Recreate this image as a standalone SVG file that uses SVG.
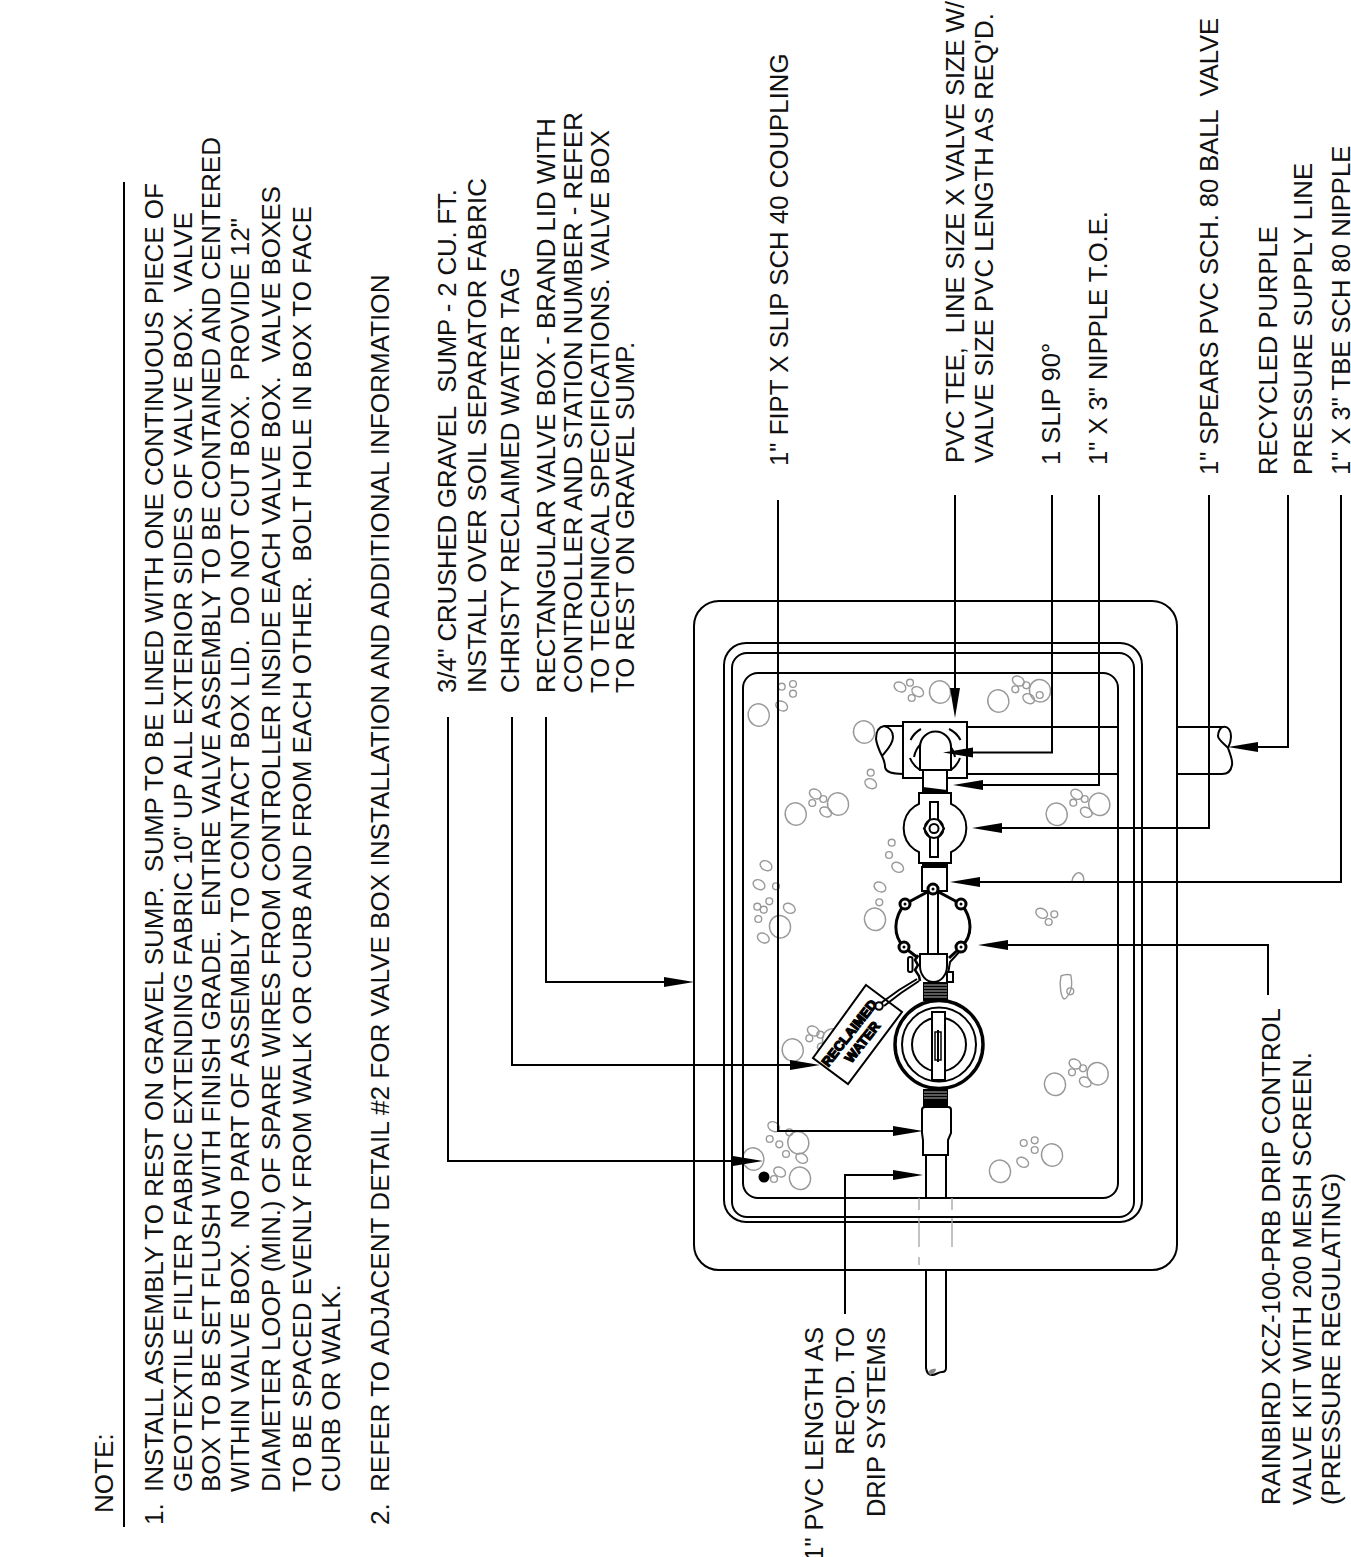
<svg xmlns="http://www.w3.org/2000/svg" width="1351" height="1557" viewBox="0 0 1351 1557">
<style>
text{font-family:"Liberation Sans",Arial,sans-serif;font-size:26.1px;fill:#111;white-space:pre}
.lb text{font-size:25.8px}
.lb .r text{font-size:25.6px}
.l{fill:none;stroke:#000;stroke-width:2}
.w{fill:#fff;stroke:#000;stroke-width:2}
.c{fill:none;stroke:#000;stroke-width:2;marker-end:url(#a)}
.g{fill:none;stroke:#999;stroke-width:1.4}
.d{fill:none;stroke:#aaa;stroke-width:1.4}
.t{fill:#000}
.th{stroke:#fff;stroke-width:.7}
text.tag{font-size:13.5px;font-weight:bold;stroke:#000;stroke-width:1.3;text-anchor:middle;fill:#000}
</style>
<defs>
<marker id="a" markerUnits="userSpaceOnUse" markerWidth="30" markerHeight="12" refX="20" refY="6" orient="auto"><path d="M0,1L30,6L0,11Z" fill="#000"/></marker>
<ellipse id="L" class="g" rx="10.500" ry="11.300" transform="rotate(-15)"/>
<ellipse id="M" class="g" rx="6.200" ry="4.600" transform="rotate(30)"/>
<circle id="S" class="g" r="3.400"/>
</defs>
<g id="note">
<path class="l" d="M124,1527V182"/>
<text transform="translate(113,1513) rotate(-90)">NOTE:</text>
<text transform="translate(163,1525) rotate(-90)">1.</text>
<text transform="translate(163,1492) rotate(-90)" textLength="1309">INSTALL ASSEMBLY TO REST ON GRAVEL SUMP.  SUMP TO BE LINED WITH ONE CONTINUOUS PIECE OF</text>
<text transform="translate(192,1492) rotate(-90)" textLength="1280">GEOTEXTILE FILTER FABRIC EXTENDING FABRIC 10" UP ALL EXTERIOR SIDES OF VALVE BOX.  VALVE</text>
<text transform="translate(220,1492) rotate(-90)" textLength="1355">BOX TO BE SET FLUSH WITH FINISH GRADE.  ENTIRE VALVE ASSEMBLY TO BE CONTAINED AND CENTERED</text>
<text transform="translate(249,1492) rotate(-90)" textLength="1274">WITHIN VALVE BOX.  NO PART OF ASSEMBLY TO CONTACT BOX LID.  DO NOT CUT BOX.  PROVIDE 12"</text>
<text transform="translate(280,1492) rotate(-90)" textLength="1306">DIAMETER LOOP (MIN.) OF SPARE WIRES FROM CONTROLLER INSIDE EACH VALVE BOX.  VALVE BOXES</text>
<text transform="translate(311,1492) rotate(-90)" textLength="1286">TO BE SPACED EVENLY FROM WALK OR CURB AND FROM EACH OTHER.  BOLT HOLE IN BOX TO FACE</text>
<text transform="translate(340,1492) rotate(-90)">CURB OR WALK.</text>
<text transform="translate(389,1525) rotate(-90)">2.</text>
<text transform="translate(389,1492) rotate(-90)">REFER TO ADJACENT DETAIL #2 FOR VALVE BOX INSTALLATION AND ADDITIONAL INFORMATION</text>
</g>
<g id="gravel">
<use href="#L" x="758.700" y="715"/><use href="#S" x="781.700" y="686.700"/><use href="#S" x="793" y="684"/><use href="#S" x="793" y="693.700"/><use href="#M" x="781.700" y="706"/>
<use href="#M" x="900" y="687"/><use href="#S" x="910" y="682.700"/><use href="#M" x="917.700" y="691.700"/><use href="#S" x="911.700" y="698"/><use href="#L" x="940" y="692"/><use href="#L" x="864" y="732"/>
<use href="#S" x="870.700" y="772.700"/><use href="#M" x="870.700" y="783.700"/><use href="#L" x="795.700" y="814"/><use href="#L" x="838" y="804"/><use href="#M" x="815.300" y="794"/><use href="#S" x="823.300" y="799"/><use href="#S" x="812.300" y="803"/><use href="#M" x="825.700" y="812"/>
<use href="#S" x="891.700" y="842.700"/><use href="#S" x="889" y="855"/><use href="#M" x="897.700" y="867.300"/><use href="#M" x="880" y="887"/><use href="#S" x="879.300" y="902.300"/><use href="#L" x="875" y="919.300"/>
<use href="#M" x="766" y="865.700"/><use href="#M" x="759" y="884.700"/><use href="#S" x="776" y="886.300"/><use href="#S" x="769.300" y="901.300"/><use href="#S" x="757.300" y="906.700"/><use href="#S" x="763.700" y="909.700"/><use href="#M" x="789.300" y="908.300"/><use href="#S" x="758.300" y="919"/><use href="#L" x="780" y="926.700"/><use href="#M" x="763.300" y="938"/>
<use href="#M" x="1018.300" y="681"/><use href="#S" x="1026.300" y="685.300"/><use href="#S" x="1015.300" y="689.300"/><use href="#M" x="1028.700" y="698.700"/><use href="#L" x="1040" y="690.700"/><use href="#S" x="1039.700" y="695"/><use href="#L" x="998.300" y="701"/>
<use href="#M" x="1076.700" y="794.300"/><use href="#S" x="1084.700" y="799"/><use href="#S" x="1073.300" y="802.700"/><use href="#M" x="1086.300" y="812.300"/><use href="#L" x="1099.300" y="804.300"/><use href="#L" x="1056.700" y="814.300"/>
<path class="g" d="M1072,881C1073,875 1077,872 1080,873C1084,875 1084,879 1083.500,882"/>
<use href="#M" x="1041.700" y="913.300"/><use href="#S" x="1054.300" y="914.300"/><use href="#S" x="1048.700" y="922"/>
<path class="g" d="M1061,976C1065,974 1071,974 1071,976C1072,982 1072,988 1070,992C1068,996 1066,999 1064,999C1061,997 1059,985 1061,976Z"/><use href="#S" x="1070.300" y="991.300"/>
<use href="#L" x="792.700" y="1050"/><use href="#M" x="813.300" y="1031"/><use href="#S" x="820.300" y="1034.700"/><use href="#S" x="809.300" y="1038.300"/><use href="#M" x="823.300" y="1048"/><use href="#L" x="833" y="1040"/>
<use href="#M" x="773.700" y="1126.700"/><use href="#S" x="789.300" y="1132.300"/><use href="#S" x="769.700" y="1139"/><use href="#S" x="779.300" y="1144.300"/><use href="#S" x="786" y="1154"/><use href="#L" x="798.300" y="1142.700"/><use href="#M" x="801.700" y="1158.300"/><use href="#L" x="753.300" y="1159"/><use href="#M" x="779.700" y="1172"/><use href="#S" x="774" y="1179"/><use href="#L" x="800" y="1178.300"/>
<use href="#M" x="1075" y="1064"/><use href="#S" x="1083" y="1068.300"/><use href="#S" x="1072" y="1072.300"/><use href="#M" x="1085.300" y="1082"/><use href="#L" x="1097.700" y="1073.700"/><use href="#L" x="1055" y="1084.300"/>
<use href="#S" x="1023.700" y="1143"/><use href="#S" x="1034.700" y="1140.300"/><use href="#S" x="1034.700" y="1150"/><use href="#M" x="1022.700" y="1162.300"/><use href="#L" x="1052" y="1155"/><use href="#L" x="1000" y="1171.300"/>
<circle class="t" cx="764" cy="1177" r="5.500"/>
</g>
<g id="valve-box">
<rect class="l" x="694" y="601" width="483" height="669" rx="25"/>
<rect class="l" x="724" y="643" width="418" height="579" rx="22"/>
<rect class="l" x="732" y="653" width="402" height="564" rx="15"/>
<rect class="l" x="743" y="673" width="375" height="525" rx="15"/>
</g>
<g id="supply-line">
<path class="l" d="M967,727H1118M1177,727H1223M967,774H1118M1177,774H1222"/>
<path class="l" d="M1223,727C1228,726 1231,730 1231,737C1231,742 1229,746 1228,748C1225,744 1218,740 1218,736C1218,731 1221,727 1223,727ZM1228,748C1230,754 1233,760 1232,765C1231,771 1227,774 1222,774"/>
<path class="l" d="M903,726H884C878,727 876,733 876,739C877,746 880,752 882,756C885,752 893,745 893,737C893,731 889,727 884,726M882,756C884,760 885,763 885,767C886,772 891,774 903,774"/>
</g>
<g id="pvc-tee">
<rect class="w" x="903" y="722" width="64" height="56"/>
<path class="l" d="M914,757A21,24 0 0 1 955,757"/>
<path class="w" d="M920,770V747A15.500,15.500 0 0 1 951,747V770Z"/>
<path class="l" d="M910.500,740A25,25 0 0 1 921,729M949,729A25,25 0 0 1 960.500,740M910,758A25,25 0 0 0 920,770M951,770A25,25 0 0 0 960,758"/>
</g>
<g id="nipple-toe">
<rect class="w" x="923" y="770" width="24" height="23"/>
<path class="t" d="M923,787L947,790V793H923Z"/>
</g>
<g id="ball-valve">
<path class="w" d="M919,793H951V804L955,806A27,27 0 0 1 955,850L951,852V863H919V852L915,850A27,27 0 0 1 915,806L919,804Z"/>
<path class="l" d="M930,802H938V819L944,828.500L938,838V857H930V838L924,828.500L930,819Z"/>
<circle class="w" cx="934" cy="828.500" r="4.500"/>
<circle class="l" cx="934" cy="828.500" r="9.500"/>
</g>
<g id="tbe-nipple">
<rect class="t" x="922" y="863" width="26" height="5"/>
<rect class="w" x="922" y="867" width="25" height="24"/>
</g>
<g id="drip-valve">
<path class="l" style="stroke-width:3" d="M905,904C893,918 893,936 904,947M961,904C973,918 973,936 961,947M905,904L933,889L961,904M904,947L918,958M961,947L949,958"/>
<path class="l" d="M961,950L950,962L948,974"/>
<rect class="w" x="928" y="890" width="10" height="66"/>
<rect class="w" x="908" y="957" width="4.500" height="15" rx="2"/>
<path class="w" d="M947,972H953V982H947Z"/>
<path class="w" d="M920,954H947V966A13.500,16 0 0 1 920,966Z"/>
<path class="l" style="stroke-width:2.500" d="M918,955L915,960L918,965L915,970L919,976L920,981"/>
<g class="w" style="stroke-width:3"><circle cx="933" cy="889" r="5"/><circle cx="905" cy="904" r="5"/><circle cx="961" cy="904" r="5"/><circle cx="904" cy="947" r="5"/><circle cx="961" cy="947" r="5"/></g>
<g class="t"><circle cx="933" cy="889" r="1.500"/><circle cx="905" cy="904" r="1.500"/><circle cx="961" cy="904" r="1.500"/><circle cx="904" cy="947" r="1.500"/><circle cx="961" cy="947" r="1.500"/></g>
</g>
<g id="threads">
<rect class="t" x="923" y="982" width="25" height="19"/>
<path class="th" d="M924,985H947M924,988H947M924,991H947M924,994H947M924,997H947"/>
<rect class="t" x="923" y="1089" width="25" height="18"/>
<path class="th" d="M924,1092H947M924,1095H947M924,1098H947"/>
</g>
<g id="meter">
<circle class="w" style="stroke-width:3.500" cx="939" cy="1044.500" r="44"/>
<circle class="l" cx="939" cy="1044.500" r="37"/>
<circle class="l" cx="939" cy="1044.500" r="27"/>
<rect class="w" x="932" y="1012" width="13" height="68"/>
<rect class="l" style="stroke-width:1.500" x="935" y="1032" width="6" height="28"/>
<path class="l" d="M938,1030V1062"/>
</g>
<g id="tag">
<path class="w" d="M866,985L902,1012L848,1084L813,1058Z"/>
<circle class="w" cx="879" cy="1006" r="3.800"/>
<path class="l" d="M881,1003L899,990L917,979M884,1006L901,993L919,981"/>
<text class="tag" transform="translate(853,1036) rotate(-52)">RECLAIMED</text>
<text class="tag" transform="translate(866,1045) rotate(-52)">WATER</text>
</g>
<g id="coupling">
<path class="w" d="M922,1110Q922,1107 925,1107H948Q951,1107 951,1110V1133L948,1140V1155H923V1140L922,1133Z"/>
</g>
<g id="pvc-line">
<path class="l" d="M926,1155V1198M946,1155V1198M926,1270V1368Q927,1375 932,1375M946,1270V1368Q946,1372 942,1372C938,1372 936,1375 932,1375"/>
<path fill="#888" stroke="none" d="M928,1372C930,1369 934,1368 936,1369C936,1372 933,1374 930,1375Z"/>
<path class="d" d="M919,1198V1210M919,1218V1247M919,1257V1265M952,1198V1210M952,1218V1247"/>
</g>
<g id="connectors">
<path class="c" d="M448,717V1161H753"/>
<path class="c" d="M512,717V1065H810"/>
<path class="c" d="M546,717V982H684"/>
<path class="c" d="M778,500V1131H913"/>
<path class="c" d="M845,1314V1175H913"/>
<path class="c" d="M955,495V708"/>
<path class="c" d="M1052,495V752.500H953"/>
<path class="c" d="M1099,495V785H963"/>
<path class="c" d="M1209,495V828H982"/>
<path class="c" d="M1288,495V747H1238"/>
<path class="c" d="M1341,495V882H960"/>
<path class="c" d="M1268,995V945H988"/>
</g>
<g class="lb">
<g id="label-sump"><text transform="translate(456,693) rotate(-90)" textLength="504">3/4" CRUSHED GRAVEL  SUMP - 2 CU. FT.</text><text transform="translate(486,693) rotate(-90)" textLength="515">INSTALL OVER SOIL SEPARATOR FABRIC</text></g>
<g id="label-tag"><text transform="translate(519,693) rotate(-90)">CHRISTY RECLAIMED WATER TAG</text></g>
<g id="label-box"><text transform="translate(555,693) rotate(-90)">RECTANGULAR VALVE BOX - BRAND LID WITH</text><text transform="translate(582,693) rotate(-90)">CONTROLLER AND STATION NUMBER - REFER</text><text transform="translate(609,693) rotate(-90)">TO TECHNICAL SPECIFICATIONS. VALVE BOX</text><text transform="translate(634,693) rotate(-90)">TO REST ON GRAVEL SUMP.</text></g>
<g id="label-coupling"><text transform="translate(788,466) rotate(-90)">1" FIPT X SLIP SCH 40 COUPLING</text></g>
<g id="label-tee"><text transform="translate(964,463) rotate(-90)" textLength="462">PVC TEE,  LINE SIZE X VALVE SIZE W/</text><text transform="translate(993,463) rotate(-90)">VALVE SIZE PVC LENGTH AS REQ'D.</text></g>
<g class="r">
<g id="label-slip"><text transform="translate(1060,465) rotate(-90)">1 SLIP 90°</text></g>
<g id="label-nipple"><text transform="translate(1107,465) rotate(-90)">1" X 3" NIPPLE T.O.E.</text></g>
<g id="label-ball"><text transform="translate(1218,475) rotate(-90)" textLength="457">1" SPEARS PVC SCH. 80 BALL  VALVE</text></g>
<g id="label-supply"><text transform="translate(1277,475) rotate(-90)">RECYCLED PURPLE</text><text transform="translate(1312,475) rotate(-90)" textLength="312">PRESSURE SUPPLY LINE</text></g>
<g id="label-tbe"><text transform="translate(1350,475) rotate(-90)">1" X 3" TBE SCH 80 NIPPLE</text></g>
<g id="label-pvc" text-anchor="end"><text transform="translate(823,1327) rotate(-90)">1" PVC LENGTH AS</text><text transform="translate(854,1327) rotate(-90)">REQ'D. TO</text><text transform="translate(885,1327) rotate(-90)">DRIP SYSTEMS</text></g>
</g>
<g id="label-rainbird"><text transform="translate(1280,1505) rotate(-90)">RAINBIRD XCZ-100-PRB DRIP CONTROL</text><text transform="translate(1311,1505) rotate(-90)">VALVE KIT WITH 200 MESH SCREEN.</text><text transform="translate(1340,1505) rotate(-90)">(PRESSURE REGULATING)</text></g>
</g>
</svg>
